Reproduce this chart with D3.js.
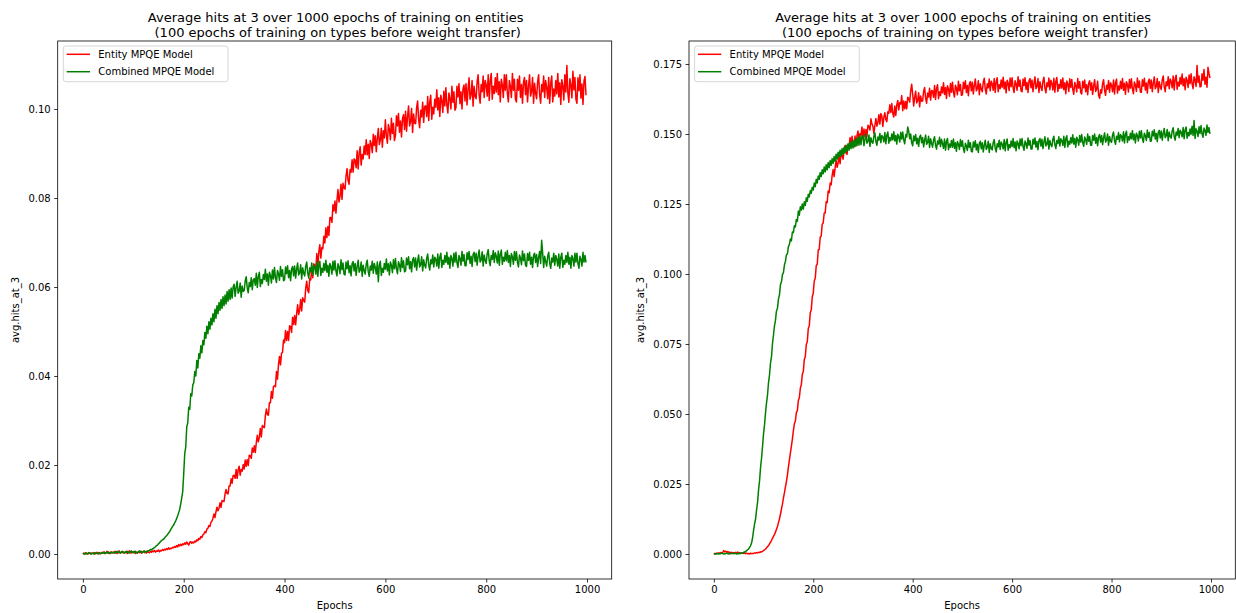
<!DOCTYPE html>
<html>
<head>
<meta charset="utf-8">
<script src="https://cdn.jsdelivr.net/npm/d3@7"></script>
<style>
  body { margin: 0; background: #fff; }
  text { font-family: "DejaVu Sans", sans-serif; fill: #000; }
</style>
</head>
<body>
<script>
// DATA (one value every 2 epochs, 10 values per row = 20 epochs)

let epochs = d3.range(0, 1000, 2)

let seriesNames = ['Entity MPQE Model', 'Combined MPQE Model']
let seriesColors = ['#ff0000', '#008000']

let titleLines = [
    'Average hits at 3 over 1000 epochs of training on entities',
    '(100 epochs of training on types before weight transfer)'
]

let xTicks = [0, 200, 400, 600, 800, 1000]
let yTicksLeft = [0, 0.02, 0.04, 0.06, 0.08, 0.10]
let yTicksRight = [0, 0.025, 0.05, 0.075, 0.10, 0.125, 0.15, 0.175]

// left panel
let entityLeft = [
    0.0000, 0.0002, 0.0000, 0.0003, 0.0001, 0.0000, 0.0002, 0.0003, 0.0000, 0.0002,
    0.0001, 0.0003, 0.0000, 0.0002, 0.0004, 0.0001, 0.0003, 0.0000, 0.0002, 0.0004,
    0.0002, 0.0005, 0.0001, 0.0003, 0.0006, 0.0002, 0.0004, 0.0001, 0.0005, 0.0003,
    0.0004, 0.0002, 0.0006, 0.0003, 0.0001, 0.0005, 0.0007, 0.0002, 0.0004, 0.0003,
    0.0005, 0.0002, 0.0003, 0.0006, 0.0001, 0.0004, 0.0007, 0.0003, 0.0002, 0.0005,
    0.0003, 0.0006, 0.0001, 0.0004, 0.0002, 0.0005, 0.0003, 0.0006, 0.0002, 0.0004,
    0.0006, 0.0003, 0.0005, 0.0002, 0.0007, 0.0004, 0.0003, 0.0006, 0.0004, 0.0007,
    0.0005, 0.0008, 0.0004, 0.0007, 0.0006, 0.0009, 0.0005, 0.0008, 0.0007, 0.0010,
    0.0008, 0.0011, 0.0009, 0.0012, 0.0010, 0.0014, 0.0011, 0.0013, 0.0012, 0.0015,
    0.0014, 0.0017, 0.0015, 0.0019, 0.0016, 0.0021, 0.0018, 0.0022, 0.0019, 0.0023,
    0.0021, 0.0025, 0.0022, 0.0027, 0.0023, 0.0020, 0.0026, 0.0028, 0.0024, 0.0027,
    0.0025, 0.0029, 0.0027, 0.0032, 0.0030, 0.0035, 0.0033, 0.0039, 0.0037, 0.0043,
    0.0045, 0.0050, 0.0048, 0.0056, 0.0058, 0.0064, 0.0062, 0.0071, 0.0074, 0.0080,
    0.0090, 0.0082, 0.0095, 0.0105, 0.0097, 0.0103, 0.0115, 0.0105, 0.0120, 0.0119,
    0.0118, 0.0135, 0.0145, 0.0136, 0.0135, 0.0153, 0.0153, 0.0169, 0.0159, 0.0176,
    0.0177, 0.0170, 0.0190, 0.0170, 0.0189, 0.0197, 0.0177, 0.0190, 0.0186, 0.0201,
    0.0191, 0.0211, 0.0197, 0.0212, 0.0199, 0.0222, 0.0221, 0.0215, 0.0238, 0.0229,
    0.0243, 0.0228, 0.0250, 0.0267, 0.0252, 0.0262, 0.0282, 0.0263, 0.0289, 0.0285,
    0.0284, 0.0311, 0.0326, 0.0313, 0.0312, 0.0340, 0.0340, 0.0365, 0.0350, 0.0376,
    0.0378, 0.0376, 0.0410, 0.0393, 0.0425, 0.0444, 0.0425, 0.0451, 0.0453, 0.0481,
    0.0475, 0.0502, 0.0480, 0.0500, 0.0480, 0.0513, 0.0511, 0.0498, 0.0532, 0.0516,
    0.0536, 0.0515, 0.0540, 0.0560, 0.0538, 0.0549, 0.0572, 0.0546, 0.0576, 0.0570,
    0.0566, 0.0597, 0.0613, 0.0592, 0.0587, 0.0619, 0.0616, 0.0645, 0.0621, 0.0652,
    0.0649, 0.0639, 0.0675, 0.0645, 0.0679, 0.0695, 0.0665, 0.0689, 0.0686, 0.0714,
    0.0699, 0.0733, 0.0711, 0.0736, 0.0716, 0.0756, 0.0756, 0.0745, 0.0785, 0.0771,
    0.0793, 0.0766, 0.0795, 0.0819, 0.0791, 0.0804, 0.0831, 0.0797, 0.0833, 0.0823,
    0.0820, 0.0850, 0.0866, 0.0839, 0.0831, 0.0864, 0.0858, 0.0886, 0.0858, 0.0888,
    0.0885, 0.0868, 0.0906, 0.0865, 0.0901, 0.0915, 0.0874, 0.0898, 0.0888, 0.0917,
    0.0898, 0.0931, 0.0897, 0.0921, 0.0889, 0.0929, 0.0922, 0.0902, 0.0943, 0.0918,
    0.0940, 0.0904, 0.0934, 0.0956, 0.0920, 0.0930, 0.0957, 0.0914, 0.0951, 0.0935,
    0.0976, 0.0940, 0.0923, 0.0965, 0.0954, 0.0931, 0.0979, 0.0945, 0.0968, 0.0929,
    0.0940, 0.0985, 0.0962, 0.0990, 0.0948, 0.0973, 0.0937, 0.0979, 0.0987, 0.0954,
    0.0995, 0.0950, 0.0983, 0.1007, 0.0962, 0.0971, 0.1001, 0.0947, 0.0989, 0.0968,
    0.0967, 0.1003, 0.1018, 0.0976, 0.0958, 0.0997, 0.0982, 0.1015, 0.0970, 0.1006,
    0.1007, 0.0983, 0.1028, 0.0974, 0.1016, 0.1031, 0.0977, 0.1004, 0.0989, 0.1022,
    0.1004, 0.1043, 0.0998, 0.1025, 0.0983, 0.1031, 0.1019, 0.0992, 0.1040, 0.1007,
    0.1048, 0.1009, 0.0991, 0.1036, 0.1024, 0.1000, 0.1051, 0.1015, 0.1039, 0.0997,
    0.1003, 0.1051, 0.1027, 0.1057, 0.1012, 0.1039, 0.1000, 0.1045, 0.1054, 0.1018,
    0.1057, 0.1009, 0.1044, 0.1070, 0.1022, 0.1032, 0.1064, 0.1006, 0.1051, 0.1028,
    0.1023, 0.1061, 0.1077, 0.1032, 0.1013, 0.1055, 0.1039, 0.1074, 0.1026, 0.1064,
    0.1054, 0.1029, 0.1077, 0.1019, 0.1064, 0.1080, 0.1022, 0.1051, 0.1035, 0.1070,
    0.1038, 0.1080, 0.1032, 0.1061, 0.1016, 0.1067, 0.1054, 0.1026, 0.1077, 0.1042,
    0.1077, 0.1035, 0.1016, 0.1064, 0.1051, 0.1026, 0.1080, 0.1042, 0.1067, 0.1022,
    0.1016, 0.1067, 0.1042, 0.1074, 0.1026, 0.1055, 0.1013, 0.1061, 0.1071, 0.1032,
    0.1064, 0.1016, 0.1051, 0.1077, 0.1029, 0.1039, 0.1071, 0.1013, 0.1058, 0.1035,
    0.1023, 0.1061, 0.1077, 0.1032, 0.1013, 0.1055, 0.1039, 0.1074, 0.1026, 0.1064,
    0.1048, 0.1023, 0.1071, 0.1013, 0.1058, 0.1074, 0.1016, 0.1045, 0.1029, 0.1064,
    0.1034, 0.1080, 0.1027, 0.1059, 0.1010, 0.1066, 0.1052, 0.1020, 0.1077, 0.1038,
    0.1098, 0.1036, 0.1015, 0.1068, 0.1054, 0.1025, 0.1085, 0.1043, 0.1071, 0.1022,
    0.1013, 0.1070, 0.1041, 0.1077, 0.1024, 0.1056, 0.1010, 0.1063, 0.1073, 0.1031
]

let combinedLeft = [
    0.0000, 0.0001, 0.0000, 0.0002, 0.0000, 0.0001, 0.0003, 0.0001, 0.0000, 0.0002,
    0.0001, 0.0000, 0.0003, 0.0001, 0.0002, 0.0000, 0.0003, 0.0002, 0.0001, 0.0003,
    0.0002, 0.0004, 0.0001, 0.0003, 0.0002, 0.0005, 0.0001, 0.0003, 0.0004, 0.0002,
    0.0003, 0.0005, 0.0002, 0.0004, 0.0006, 0.0003, 0.0005, 0.0002, 0.0004, 0.0006,
    0.0004, 0.0002, 0.0005, 0.0003, 0.0006, 0.0004, 0.0002, 0.0005, 0.0007, 0.0003,
    0.0005, 0.0003, 0.0006, 0.0004, 0.0002, 0.0005, 0.0007, 0.0004, 0.0006, 0.0003,
    0.0005, 0.0007, 0.0004, 0.0006, 0.0005, 0.0007, 0.0008, 0.0010, 0.0009, 0.0012,
    0.0012, 0.0015, 0.0016, 0.0019, 0.0020, 0.0023, 0.0025, 0.0028, 0.0030, 0.0032,
    0.0033, 0.0036, 0.0039, 0.0041, 0.0044, 0.0047, 0.0050, 0.0054, 0.0058, 0.0062,
    0.0065, 0.0070, 0.0074, 0.0080, 0.0086, 0.0093, 0.0100, 0.0112, 0.0125, 0.0140,
    0.0180, 0.0225, 0.0240, 0.0285, 0.0295, 0.0330, 0.0325, 0.0360, 0.0355, 0.0380,
    0.0385, 0.0410, 0.0400, 0.0435, 0.0418, 0.0450, 0.0440, 0.0468, 0.0452, 0.0480,
    0.0470, 0.0498, 0.0485, 0.0512, 0.0495, 0.0522, 0.0505, 0.0530, 0.0515, 0.0540,
    0.0522, 0.0550, 0.0530, 0.0558, 0.0540, 0.0565, 0.0548, 0.0572, 0.0552, 0.0578,
    0.0558, 0.0582, 0.0562, 0.0590, 0.0568, 0.0594, 0.0572, 0.0598, 0.0575, 0.0600,
    0.0606, 0.0579, 0.0599, 0.0613, 0.0586, 0.0591, 0.0609, 0.0577, 0.0602, 0.0590,
    0.0592, 0.0614, 0.0623, 0.0598, 0.0587, 0.0610, 0.0601, 0.0621, 0.0594, 0.0616,
    0.0619, 0.0604, 0.0631, 0.0599, 0.0624, 0.0633, 0.0601, 0.0617, 0.0608, 0.0628,
    0.0617, 0.0640, 0.0613, 0.0629, 0.0604, 0.0633, 0.0626, 0.0609, 0.0638, 0.0618,
    0.0644, 0.0621, 0.0610, 0.0637, 0.0630, 0.0615, 0.0646, 0.0624, 0.0639, 0.0614,
    0.0616, 0.0645, 0.0630, 0.0648, 0.0621, 0.0637, 0.0614, 0.0641, 0.0646, 0.0625,
    0.0647, 0.0620, 0.0640, 0.0654, 0.0627, 0.0632, 0.0650, 0.0618, 0.0643, 0.0631,
    0.0625, 0.0647, 0.0656, 0.0631, 0.0620, 0.0643, 0.0634, 0.0654, 0.0627, 0.0649,
    0.0644, 0.0629, 0.0656, 0.0624, 0.0649, 0.0658, 0.0626, 0.0642, 0.0633, 0.0653,
    0.0637, 0.0660, 0.0633, 0.0649, 0.0624, 0.0653, 0.0646, 0.0629, 0.0658, 0.0638,
    0.0659, 0.0636, 0.0625, 0.0652, 0.0645, 0.0630, 0.0661, 0.0639, 0.0654, 0.0629,
    0.0627, 0.0656, 0.0641, 0.0659, 0.0632, 0.0648, 0.0625, 0.0652, 0.0657, 0.0636,
    0.0653, 0.0626, 0.0646, 0.0660, 0.0633, 0.0638, 0.0656, 0.0624, 0.0649, 0.0637,
    0.0629, 0.0651, 0.0660, 0.0635, 0.0624, 0.0647, 0.0638, 0.0658, 0.0631, 0.0653,
    0.0644, 0.0629, 0.0656, 0.0612, 0.0649, 0.0658, 0.0626, 0.0642, 0.0633, 0.0653,
    0.0640, 0.0663, 0.0636, 0.0652, 0.0627, 0.0656, 0.0649, 0.0632, 0.0661, 0.0641,
    0.0664, 0.0641, 0.0630, 0.0657, 0.0650, 0.0635, 0.0666, 0.0644, 0.0659, 0.0634,
    0.0636, 0.0665, 0.0650, 0.0668, 0.0641, 0.0657, 0.0634, 0.0661, 0.0666, 0.0645,
    0.0665, 0.0638, 0.0658, 0.0672, 0.0645, 0.0650, 0.0668, 0.0636, 0.0661, 0.0649,
    0.0643, 0.0665, 0.0674, 0.0649, 0.0638, 0.0661, 0.0652, 0.0672, 0.0645, 0.0667,
    0.0662, 0.0647, 0.0674, 0.0642, 0.0667, 0.0676, 0.0644, 0.0660, 0.0651, 0.0671,
    0.0655, 0.0678, 0.0651, 0.0667, 0.0642, 0.0671, 0.0664, 0.0647, 0.0676, 0.0656,
    0.0678, 0.0655, 0.0644, 0.0671, 0.0664, 0.0649, 0.0680, 0.0658, 0.0673, 0.0648,
    0.0648, 0.0677, 0.0662, 0.0680, 0.0653, 0.0669, 0.0646, 0.0673, 0.0678, 0.0657,
    0.0676, 0.0649, 0.0669, 0.0683, 0.0656, 0.0661, 0.0679, 0.0647, 0.0672, 0.0660,
    0.0653, 0.0675, 0.0684, 0.0659, 0.0648, 0.0671, 0.0662, 0.0682, 0.0655, 0.0677,
    0.0669, 0.0654, 0.0681, 0.0649, 0.0674, 0.0683, 0.0651, 0.0667, 0.0658, 0.0678,
    0.0659, 0.0682, 0.0655, 0.0671, 0.0646, 0.0675, 0.0668, 0.0651, 0.0680, 0.0660,
    0.0679, 0.0656, 0.0645, 0.0672, 0.0665, 0.0650, 0.0681, 0.0659, 0.0674, 0.0649,
    0.0646, 0.0675, 0.0660, 0.0678, 0.0651, 0.0667, 0.0644, 0.0671, 0.0676, 0.0655,
    0.0673, 0.0646, 0.0666, 0.0680, 0.0653, 0.0705, 0.0676, 0.0644, 0.0669, 0.0657,
    0.0647, 0.0669, 0.0678, 0.0653, 0.0642, 0.0665, 0.0656, 0.0676, 0.0649, 0.0671,
    0.0662, 0.0647, 0.0674, 0.0642, 0.0667, 0.0676, 0.0644, 0.0660, 0.0651, 0.0671,
    0.0655, 0.0678, 0.0651, 0.0667, 0.0642, 0.0671, 0.0664, 0.0647, 0.0676, 0.0656,
    0.0676, 0.0653, 0.0642, 0.0669, 0.0662, 0.0647, 0.0678, 0.0656, 0.0671, 0.0655
]

// right panel
let entityRight = [
    0.0000, 0.0002, 0.0001, 0.0003, 0.0002, 0.0004, 0.0003, 0.0005, 0.0004, 0.0006,
    0.0012, 0.0008, 0.0010, 0.0006, 0.0009, 0.0005, 0.0007, 0.0004, 0.0006, 0.0003,
    0.0005, 0.0003, 0.0006, 0.0004, 0.0007, 0.0003, 0.0005, 0.0002, 0.0004, 0.0003,
    0.0002, 0.0004, 0.0001, 0.0003, 0.0001, 0.0002, 0.0000, 0.0003, 0.0001, 0.0002,
    0.0002, 0.0004, 0.0003, 0.0005, 0.0004, 0.0006, 0.0005, 0.0008, 0.0007, 0.0010,
    0.0012, 0.0015, 0.0018, 0.0022, 0.0026, 0.0030, 0.0036, 0.0042, 0.0048, 0.0056,
    0.0063, 0.0070, 0.0078, 0.0088, 0.0098, 0.0112, 0.0125, 0.0142, 0.0160, 0.0178,
    0.0200, 0.0218, 0.0240, 0.0258, 0.0282, 0.0310, 0.0335, 0.0360, 0.0385, 0.0410,
    0.0440, 0.0465, 0.0475, 0.0505, 0.0512, 0.0548, 0.0558, 0.0592, 0.0605, 0.0642,
    0.0652, 0.0695, 0.0705, 0.0748, 0.0758, 0.0805, 0.0815, 0.0862, 0.0872, 0.0918,
    0.0932, 0.0975, 0.0985, 0.1030, 0.1035, 0.1085, 0.1088, 0.1132, 0.1135, 0.1178,
    0.1182, 0.1218, 0.1218, 0.1258, 0.1255, 0.1296, 0.1290, 0.1325, 0.1318, 0.1352,
    0.1373, 0.1348, 0.1380, 0.1406, 0.1381, 0.1396, 0.1426, 0.1394, 0.1433, 0.1425,
    0.1410, 0.1442, 0.1459, 0.1434, 0.1427, 0.1462, 0.1457, 0.1487, 0.1460, 0.1492,
    0.1466, 0.1454, 0.1493, 0.1458, 0.1494, 0.1511, 0.1476, 0.1501, 0.1496, 0.1525,
    0.1483, 0.1518, 0.1490, 0.1516, 0.1490, 0.1531, 0.1527, 0.1514, 0.1554, 0.1536,
    0.1528, 0.1501, 0.1531, 0.1555, 0.1528, 0.1541, 0.1569, 0.1535, 0.1573, 0.1563,
    0.1527, 0.1559, 0.1576, 0.1551, 0.1544, 0.1579, 0.1574, 0.1604, 0.1577, 0.1609,
    0.1572, 0.1561, 0.1600, 0.1566, 0.1603, 0.1620, 0.1586, 0.1612, 0.1607, 0.1637,
    0.1583, 0.1618, 0.1590, 0.1616, 0.1590, 0.1631, 0.1627, 0.1614, 0.1654, 0.1678,
    0.1642, 0.1600, 0.1631, 0.1653, 0.1611, 0.1619, 0.1647, 0.1597, 0.1636, 0.1617,
    0.1618, 0.1652, 0.1666, 0.1627, 0.1610, 0.1646, 0.1632, 0.1663, 0.1621, 0.1655,
    0.1654, 0.1631, 0.1673, 0.1623, 0.1662, 0.1676, 0.1626, 0.1651, 0.1637, 0.1668,
    0.1647, 0.1683, 0.1641, 0.1666, 0.1627, 0.1672, 0.1661, 0.1635, 0.1680, 0.1649,
    0.1685, 0.1649, 0.1632, 0.1674, 0.1663, 0.1640, 0.1688, 0.1654, 0.1677, 0.1638,
    0.1640, 0.1685, 0.1662, 0.1690, 0.1648, 0.1673, 0.1637, 0.1679, 0.1687, 0.1654,
    0.1685, 0.1643, 0.1674, 0.1696, 0.1654, 0.1662, 0.1690, 0.1640, 0.1679, 0.1660,
    0.1651, 0.1685, 0.1699, 0.1660, 0.1643, 0.1679, 0.1665, 0.1696, 0.1654, 0.1688,
    0.1679, 0.1656, 0.1698, 0.1648, 0.1687, 0.1701, 0.1651, 0.1676, 0.1662, 0.1693,
    0.1667, 0.1703, 0.1661, 0.1686, 0.1647, 0.1692, 0.1681, 0.1655, 0.1700, 0.1669,
    0.1701, 0.1665, 0.1648, 0.1690, 0.1679, 0.1656, 0.1704, 0.1670, 0.1693, 0.1654,
    0.1651, 0.1696, 0.1673, 0.1701, 0.1659, 0.1684, 0.1648, 0.1690, 0.1698, 0.1665,
    0.1693, 0.1651, 0.1682, 0.1704, 0.1662, 0.1670, 0.1698, 0.1648, 0.1687, 0.1668,
    0.1655, 0.1689, 0.1703, 0.1664, 0.1647, 0.1683, 0.1669, 0.1700, 0.1658, 0.1692,
    0.1680, 0.1657, 0.1699, 0.1649, 0.1688, 0.1702, 0.1652, 0.1677, 0.1663, 0.1694,
    0.1664, 0.1700, 0.1658, 0.1683, 0.1644, 0.1689, 0.1678, 0.1652, 0.1697, 0.1666,
    0.1695, 0.1659, 0.1642, 0.1684, 0.1673, 0.1650, 0.1698, 0.1664, 0.1687, 0.1648,
    0.1643, 0.1688, 0.1665, 0.1693, 0.1651, 0.1676, 0.1640, 0.1682, 0.1690, 0.1657,
    0.1683, 0.1641, 0.1672, 0.1694, 0.1652, 0.1660, 0.1688, 0.1638, 0.1628, 0.1658,
    0.1646, 0.1680, 0.1694, 0.1655, 0.1638, 0.1674, 0.1660, 0.1691, 0.1649, 0.1683,
    0.1674, 0.1651, 0.1693, 0.1643, 0.1682, 0.1696, 0.1646, 0.1671, 0.1657, 0.1688,
    0.1662, 0.1698, 0.1656, 0.1681, 0.1642, 0.1687, 0.1676, 0.1650, 0.1695, 0.1664,
    0.1697, 0.1661, 0.1644, 0.1686, 0.1675, 0.1652, 0.1700, 0.1666, 0.1689, 0.1650,
    0.1649, 0.1694, 0.1671, 0.1699, 0.1657, 0.1682, 0.1646, 0.1688, 0.1696, 0.1663,
    0.1693, 0.1651, 0.1682, 0.1704, 0.1662, 0.1670, 0.1698, 0.1648, 0.1687, 0.1668,
    0.1659, 0.1693, 0.1707, 0.1668, 0.1651, 0.1687, 0.1673, 0.1704, 0.1662, 0.1696,
    0.1688, 0.1665, 0.1707, 0.1657, 0.1696, 0.1710, 0.1660, 0.1685, 0.1671, 0.1702,
    0.1678, 0.1714, 0.1672, 0.1697, 0.1658, 0.1703, 0.1692, 0.1666, 0.1711, 0.1680,
    0.1715, 0.1679, 0.1662, 0.1704, 0.1693, 0.1670, 0.1745, 0.1684, 0.1707, 0.1668,
    0.1670, 0.1715, 0.1692, 0.1730, 0.1678, 0.1703, 0.1667, 0.1738, 0.1717, 0.1700
]

let combinedRight = [
    0.0000, 0.0001, 0.0000, 0.0002, 0.0001, 0.0000, 0.0002, 0.0001, 0.0003, 0.0001,
    0.0000, 0.0002, 0.0001, 0.0003, 0.0001, 0.0000, 0.0002, 0.0001, 0.0003, 0.0002,
    0.0001, 0.0003, 0.0002, 0.0000, 0.0002, 0.0001, 0.0003, 0.0002, 0.0004, 0.0003,
    0.0006, 0.0007, 0.0009, 0.0012, 0.0015, 0.0018, 0.0024, 0.0030, 0.0040, 0.0058,
    0.0085, 0.0108, 0.0125, 0.0158, 0.0185, 0.0230, 0.0262, 0.0310, 0.0342, 0.0385,
    0.0430, 0.0462, 0.0505, 0.0540, 0.0568, 0.0612, 0.0640, 0.0682, 0.0705, 0.0752,
    0.0782, 0.0815, 0.0835, 0.0868, 0.0878, 0.0910, 0.0925, 0.0962, 0.0972, 0.0998,
    0.1005, 0.1032, 0.1045, 0.1068, 0.1072, 0.1098, 0.1105, 0.1125, 0.1118, 0.1150,
    0.1148, 0.1172, 0.1168, 0.1195, 0.1188, 0.1225, 0.1210, 0.1240, 0.1228, 0.1250,
    0.1232, 0.1258, 0.1245, 0.1272, 0.1260, 0.1285, 0.1275, 0.1298, 0.1288, 0.1310,
    0.1300, 0.1325, 0.1312, 0.1338, 0.1325, 0.1350, 0.1338, 0.1362, 0.1348, 0.1372,
    0.1358, 0.1382, 0.1365, 0.1390, 0.1372, 0.1398, 0.1380, 0.1405, 0.1388, 0.1412,
    0.1395, 0.1420, 0.1402, 0.1428, 0.1410, 0.1435, 0.1418, 0.1442, 0.1422, 0.1448,
    0.1428, 0.1452, 0.1432, 0.1460, 0.1438, 0.1465, 0.1442, 0.1470, 0.1448, 0.1475,
    0.1450, 0.1478, 0.1455, 0.1482, 0.1458, 0.1488, 0.1460, 0.1492, 0.1462, 0.1495,
    0.1491, 0.1458, 0.1482, 0.1500, 0.1467, 0.1474, 0.1496, 0.1456, 0.1487, 0.1471,
    0.1467, 0.1493, 0.1504, 0.1473, 0.1460, 0.1489, 0.1478, 0.1502, 0.1469, 0.1495,
    0.1489, 0.1472, 0.1505, 0.1465, 0.1496, 0.1507, 0.1467, 0.1487, 0.1476, 0.1500,
    0.1479, 0.1508, 0.1475, 0.1495, 0.1464, 0.1499, 0.1490, 0.1471, 0.1506, 0.1482,
    0.1507, 0.1478, 0.1465, 0.1498, 0.1489, 0.1525, 0.1509, 0.1483, 0.1500, 0.1469,
    0.1458, 0.1493, 0.1476, 0.1498, 0.1465, 0.1485, 0.1456, 0.1489, 0.1496, 0.1469,
    0.1487, 0.1454, 0.1478, 0.1496, 0.1463, 0.1470, 0.1492, 0.1452, 0.1483, 0.1467,
    0.1453, 0.1479, 0.1490, 0.1459, 0.1446, 0.1475, 0.1464, 0.1488, 0.1455, 0.1481,
    0.1466, 0.1449, 0.1482, 0.1442, 0.1473, 0.1484, 0.1444, 0.1464, 0.1453, 0.1477,
    0.1453, 0.1482, 0.1449, 0.1469, 0.1438, 0.1473, 0.1464, 0.1445, 0.1480, 0.1456,
    0.1476, 0.1447, 0.1434, 0.1467, 0.1458, 0.1441, 0.1478, 0.1452, 0.1469, 0.1438,
    0.1436, 0.1471, 0.1454, 0.1476, 0.1443, 0.1463, 0.1434, 0.1467, 0.1474, 0.1447,
    0.1469, 0.1436, 0.1460, 0.1478, 0.1445, 0.1452, 0.1474, 0.1434, 0.1465, 0.1449,
    0.1443, 0.1469, 0.1480, 0.1449, 0.1436, 0.1465, 0.1454, 0.1478, 0.1445, 0.1471,
    0.1464, 0.1447, 0.1480, 0.1440, 0.1471, 0.1482, 0.1442, 0.1462, 0.1451, 0.1475,
    0.1455, 0.1484, 0.1451, 0.1471, 0.1440, 0.1475, 0.1466, 0.1447, 0.1482, 0.1458,
    0.1484, 0.1455, 0.1442, 0.1475, 0.1466, 0.1449, 0.1486, 0.1460, 0.1477, 0.1446,
    0.1446, 0.1481, 0.1464, 0.1486, 0.1453, 0.1473, 0.1444, 0.1477, 0.1484, 0.1457,
    0.1481, 0.1448, 0.1472, 0.1490, 0.1457, 0.1464, 0.1486, 0.1446, 0.1477, 0.1461,
    0.1455, 0.1481, 0.1492, 0.1461, 0.1448, 0.1477, 0.1466, 0.1490, 0.1457, 0.1483,
    0.1476, 0.1459, 0.1492, 0.1452, 0.1483, 0.1494, 0.1454, 0.1474, 0.1463, 0.1487,
    0.1468, 0.1497, 0.1464, 0.1484, 0.1453, 0.1488, 0.1479, 0.1460, 0.1495, 0.1471,
    0.1498, 0.1469, 0.1456, 0.1489, 0.1480, 0.1463, 0.1500, 0.1474, 0.1491, 0.1460,
    0.1460, 0.1495, 0.1478, 0.1500, 0.1467, 0.1487, 0.1458, 0.1491, 0.1498, 0.1471,
    0.1495, 0.1462, 0.1486, 0.1504, 0.1471, 0.1478, 0.1500, 0.1460, 0.1491, 0.1475,
    0.1470, 0.1496, 0.1507, 0.1476, 0.1463, 0.1492, 0.1481, 0.1505, 0.1472, 0.1498,
    0.1492, 0.1475, 0.1508, 0.1468, 0.1499, 0.1510, 0.1470, 0.1490, 0.1479, 0.1503,
    0.1483, 0.1512, 0.1479, 0.1499, 0.1468, 0.1503, 0.1494, 0.1475, 0.1510, 0.1486,
    0.1512, 0.1483, 0.1470, 0.1503, 0.1494, 0.1477, 0.1514, 0.1488, 0.1505, 0.1474,
    0.1475, 0.1510, 0.1493, 0.1515, 0.1482, 0.1502, 0.1473, 0.1506, 0.1513, 0.1486,
    0.1511, 0.1478, 0.1502, 0.1520, 0.1487, 0.1494, 0.1516, 0.1476, 0.1507, 0.1491,
    0.1485, 0.1511, 0.1522, 0.1491, 0.1478, 0.1507, 0.1496, 0.1520, 0.1487, 0.1513,
    0.1507, 0.1490, 0.1523, 0.1483, 0.1514, 0.1525, 0.1485, 0.1505, 0.1494, 0.1518,
    0.1499, 0.1528, 0.1495, 0.1548, 0.1484, 0.1519, 0.1510, 0.1491, 0.1526, 0.1502,
    0.1530, 0.1501, 0.1488, 0.1521, 0.1512, 0.1495, 0.1532, 0.1506, 0.1523, 0.1500
]

// CANVAS
let width = 1236
let height = 613
let plotTop = 41
let plotBottom = 579

let svg = d3.select('body').append('svg')
    .attr('width', width)
    .attr('height', height)

let panels = [
    { left: 57.7, right: 611.7, yDomain: [-0.00562, 0.11528], yTicks: yTicksLeft, fmt: d3.format('.2f'),
      series: [entityLeft, combinedLeft], labelX: 19 },
    { left: 689, right: 1235.3, yDomain: [-0.00893, 0.18321], yTicks: yTicksRight, fmt: d3.format('.3f'),
      series: [entityRight, combinedRight], labelX: 643.5 }
]

panels.forEach((p, pi) => {
    let x = d3.scaleLinear().domain([-49.95, 1048.95]).range([p.left, p.right])
    let y = d3.scaleLinear().domain(p.yDomain).range([plotBottom, plotTop])
    let cx = (p.left + p.right) / 2

    // clip lines to the axes box
    svg.append('clipPath').attr('id', 'clip' + pi)
        .append('rect')
        .attr('x', p.left).attr('y', plotTop)
        .attr('width', p.right - p.left).attr('height', plotBottom - plotTop)

    let line = d3.line()
        .x((d, i) => x(epochs[i]))
        .y(d => y(d))

    p.series.forEach((s, si) => {
        svg.append('path')
            .datum(s)
            .attr('clip-path', 'url(#clip' + pi + ')')
            .attr('fill', 'none')
            .attr('stroke', seriesColors[si])
            .attr('stroke-width', 1.5)
            .attr('stroke-linejoin', 'round')
            .attr('d', line)
    })

    // axes
    let xAxis = svg.append('g')
        .attr('transform', 'translate(0,' + plotBottom + ')')
        .call(d3.axisBottom(x).tickValues(xTicks).tickFormat(d3.format('d')).tickSize(3.5).tickPadding(3.5))
    let yAxis = svg.append('g')
        .attr('transform', 'translate(' + p.left + ',0)')
        .call(d3.axisLeft(y).tickValues(p.yTicks).tickFormat(p.fmt).tickSize(3.5).tickPadding(3.5))

    ;[xAxis, yAxis].forEach(a => {
        a.select('.domain').remove()
        a.selectAll('line').attr('stroke', '#000').attr('stroke-width', 0.8)
        a.selectAll('text').attr('font-size', 10).attr('font-family', '"DejaVu Sans", sans-serif')
    })

    // frame
    svg.append('rect')
        .attr('x', p.left).attr('y', plotTop)
        .attr('width', p.right - p.left).attr('height', plotBottom - plotTop)
        .attr('fill', 'none')
        .attr('stroke', '#000')
        .attr('stroke-width', 0.8)

    // title
    svg.append('text')
        .attr('x', cx + 1).attr('y', 22)
        .attr('text-anchor', 'middle')
        .attr('font-size', 13)
        .text(titleLines[0])
    svg.append('text')
        .attr('x', cx + 3).attr('y', 37)
        .attr('text-anchor', 'middle')
        .attr('font-size', 13)
        .text(titleLines[1])

    // axis labels
    svg.append('text')
        .attr('x', cx).attr('y', 609)
        .attr('text-anchor', 'middle')
        .attr('font-size', 10)
        .text('Epochs')
    svg.append('text')
        .attr('transform', 'translate(' + p.labelX + ',' + ((plotTop + plotBottom) / 2) + ') rotate(-90)')
        .attr('text-anchor', 'middle')
        .attr('font-size', 10)
        .text('avg.hits_at_3')

    // legend
    let legend = svg.append('g')
        .attr('transform', 'translate(' + (p.left + 5.6) + ',' + (plotTop + 5) + ')')
    legend.append('rect')
        .attr('width', 164.7).attr('height', 35.7)
        .attr('rx', 2.5)
        .attr('fill', '#fff').attr('fill-opacity', 0.8)
        .attr('stroke', '#d6d6d6').attr('stroke-width', 1)
    seriesNames.forEach((name, si) => {
        let ly = 8.3 + si * 17.4
        legend.append('line')
            .attr('x1', 3.4).attr('x2', 26.7)
            .attr('y1', ly).attr('y2', ly)
            .attr('stroke', seriesColors[si])
            .attr('stroke-width', 1.5)
        legend.append('text')
            .attr('x', 35).attr('y', ly)
            .attr('dy', '0.35em')
            .attr('font-size', 10)
            .text(name)
    })
})
</script>
</body>
</html>
